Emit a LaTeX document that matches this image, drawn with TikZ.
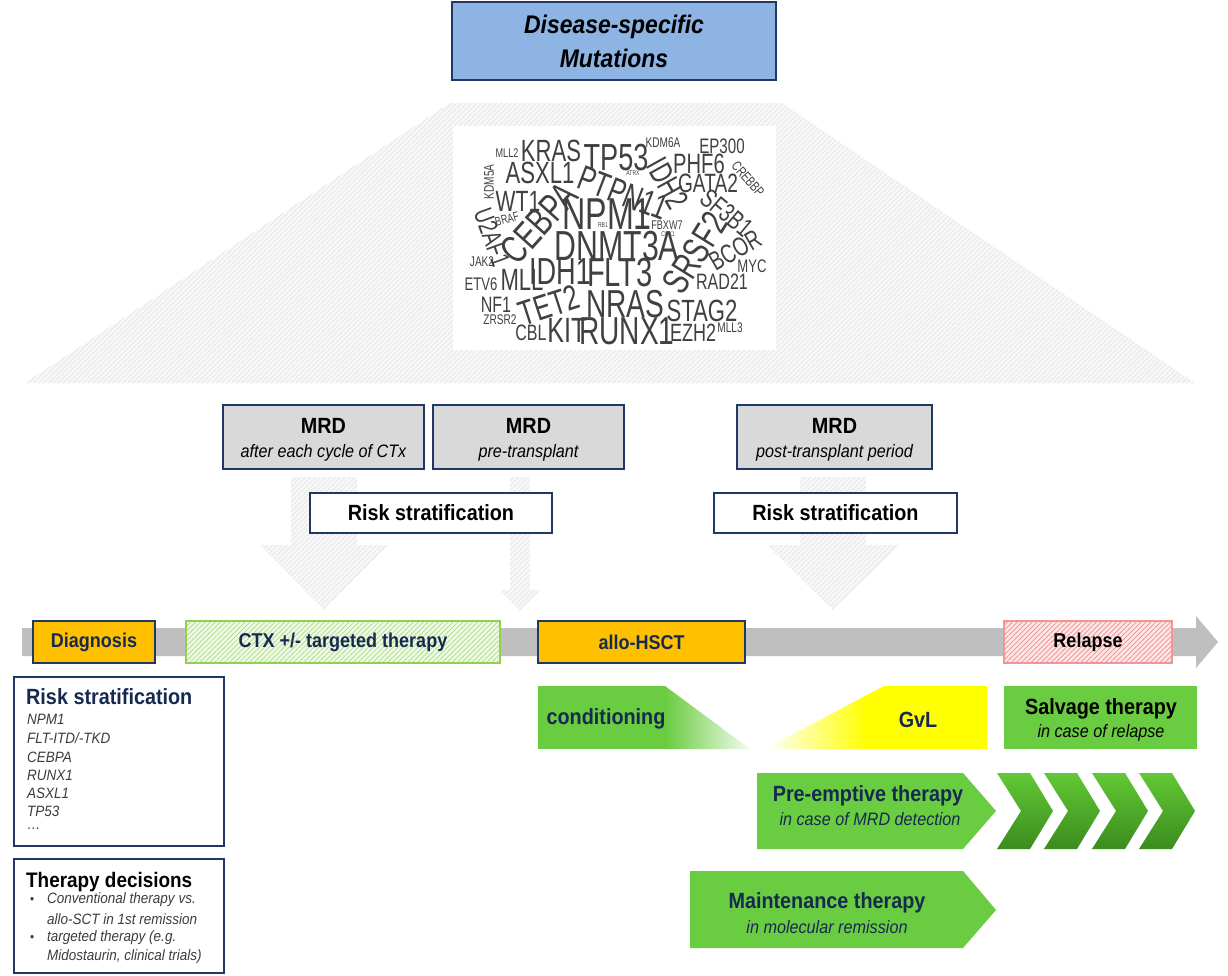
\documentclass[tikz,border=0pt]{standalone}
\usepackage{fontspec}
\setmainfont{Liberation Sans}[FakeStretch=0.9]
\usetikzlibrary{patterns.meta}
\definecolor{navy}{RGB}{31,56,100}
\definecolor{navytxt}{RGB}{22,42,80}
\definecolor{topblue}{RGB}{141,180,226}
\definecolor{mrdgray}{RGB}{217,217,217}
\definecolor{orng}{RGB}{255,192,0}
\definecolor{grn}{RGB}{106,204,64}
\definecolor{barg}{RGB}{191,191,191}
\definecolor{hatchbg}{RGB}{248,248,248}
\definecolor{hatchln}{RGB}{228,228,228}
\definecolor{wcgray}{RGB}{64,64,64}
\definecolor{ctxbg}{RGB}{238,249,230}
\definecolor{ctxln}{RGB}{170,220,130}
\definecolor{ctxbd}{RGB}{146,208,80}
\definecolor{relbg}{RGB}{253,230,230}
\definecolor{relln}{RGB}{238,140,140}
\definecolor{relbd}{RGB}{240,150,150}
\definecolor{gvly}{RGB}{255,255,0}
\definecolor{chevtop}{RGB}{98,200,52}
\definecolor{chevbot}{RGB}{58,140,30}
\definecolor{itemgray}{RGB}{60,60,60}
\tikzset{
  hatchfill/.style 2 args={preaction={fill=#1}, pattern={Lines[angle=45,distance=3.5pt,line width=0.7pt]}, pattern color=#2},
  navybox/.style={draw=navy, line width=1.6pt, inner sep=0pt},
  lbl/.style={inner sep=0pt, font=\fontsize{22}{22}\selectfont\bfseries},
  tlbl/.style={inner sep=0pt, font=\fontsize{20}{20}\selectfont\bfseries, text=navytxt},
  sub/.style={inner sep=0pt, font=\fontsize{18}{18}\selectfont\itshape},
  item/.style={inner sep=0pt, anchor=west, font=\fontsize{15}{15}\selectfont\itshape, text=itemgray},
  wc/.style={inner sep=0pt, text=wcgray}
}
\newcommand\wcw[5]{\node[wc, rotate=#3, font=\fontsize{#4}{#4}\selectfont] (w#5) at (#1,#2) {\scalebox{0.8}[1]{#5}};}
\begin{document}
\begin{tikzpicture}[x=1pt,y=-1pt]
\useasboundingbox (0,0) rectangle (1228,976);
\fill[white] (0,0) rectangle (1228,976);

% trapezoid
\path[hatchfill={hatchbg}{hatchln}] (450,103) -- (782,103) -- (1195,383) -- (25,383) -- cycle;
% title
\node[navybox, fill=topblue, minimum width=324, minimum height=78] (title) at (614,41) {};
\node[inner sep=0pt, font=\fontsize{25.5}{25.5}\selectfont\bfseries\itshape] (title1) at (614,27) {Disease-specific};
\node[inner sep=0pt, font=\fontsize{25.5}{25.5}\selectfont\bfseries\itshape] (title2) at (614,58) {Mutations};

% word cloud
\fill[white] (453,126) rectangle (776,350);
\wcw{551}{151}{0}{30.7}{KRAS}
\wcw{616}{158}{0}{37.7}{TP53}
\wcw{663}{143}{0}{14}{KDM6A}
\wcw{722}{146}{0}{21}{EP300}
\wcw{507}{153}{0}{12.6}{MLL2}
\wcw{540}{173}{0}{30.7}{ASXL1}
\wcw{668}{183}{-61}{32}{IDH2}
\wcw{748}{179}{-49}{14}{CREBBP}
\wcw{623}{193}{-21}{35}{PTPN11}
\wcw{633}{173}{0}{7}{ATRX}
\wcw{699}{164}{0}{28}{PHF6}
\wcw{708}{183}{0}{26.5}{GATA2}
\wcw{518}{201}{0}{29.3}{WT1}
\wcw{489}{182}{90}{14}{KDM5A}
\wcw{539}{223}{48}{39}{CEBPA}
\wcw{607}{214}{0}{44.7}{NPM1}
\wcw{727}{213}{-40}{26.5}{SF3B1}
\wcw{492}{237}{-70}{26.5}{U2AF1}
\wcw{507}{219}{15}{12.6}{BRAF}
\wcw{603}{225}{0}{7}{RB1}
\wcw{667}{225}{0}{12.6}{FBXW7}
\wcw{668}{234}{0}{7}{CUX1}
\wcw{617}{246}{0}{42}{DNMT3A}
\wcw{695}{253}{58}{37.7}{SRSF2}
\wcw{735}{250}{30}{26.5}{BCOR}
\wcw{752}{266}{0}{18.2}{MYC}
\wcw{482}{262}{0}{14}{JAK2}
\wcw{481}{284}{0}{18.2}{ETV6}
\wcw{522}{280}{0}{30.7}{MLL}
\wcw{560}{272}{0}{37.7}{IDH1}
\wcw{620}{273}{0}{40.5}{FLT3}
\wcw{722}{282}{0}{22.3}{RAD21}
\wcw{496}{305}{0}{22.3}{NF1}
\wcw{549}{305}{18}{35}{TET2}
\wcw{625}{304}{0}{39}{NRAS}
\wcw{702}{311}{0}{30.7}{STAG2}
\wcw{500}{320}{0}{14}{ZRSR2}
\wcw{531}{333}{0}{22.3}{CBL}
\wcw{567}{330}{0}{35}{KIT}
\wcw{627}{331}{0}{39}{RUNX1}
\wcw{693}{333}{0}{25}{EZH2}
\wcw{730}{328}{0}{14}{MLL3}

% hatched arrows
\path[hatchfill={hatchbg}{hatchln}] (291,477) -- (357,477) -- (357,545) -- (388,545) -- (324,610) -- (260,545) -- (291,545) -- cycle;
\path[hatchfill={hatchbg}{hatchln}] (510,477) -- (530,477) -- (530,590) -- (540,590) -- (520,611) -- (500,590) -- (510,590) -- cycle;
\path[hatchfill={hatchbg}{hatchln}] (800,477) -- (866,477) -- (866,545) -- (900,545) -- (833,610) -- (767,545) -- (800,545) -- cycle;

% MRD boxes
\node[navybox, fill=mrdgray, minimum width=201, minimum height=64] (mrd1) at (323.5,437) {};
\node[lbl] (mrd1a) at (323.5,426) {MRD};
\node[sub] (mrd1b) at (323.5,453) {after each cycle of CTx};
\node[navybox, fill=mrdgray, minimum width=191, minimum height=64] (mrd2) at (528.5,437) {};
\node[lbl] (mrd2a) at (528.5,426) {MRD};
\node[sub] (mrd2b) at (528.5,453) {pre-transplant};
\node[navybox, fill=mrdgray, minimum width=195, minimum height=64] (mrd3) at (834.5,437) {};
\node[lbl] (mrd3a) at (834.5,426) {MRD};
\node[sub] (mrd3b) at (834.5,453) {post-transplant period};

% risk stratification boxes
\node[navybox, fill=white, minimum width=242, minimum height=40] (rs1) at (431,513) {};
\node[lbl] (rs1t) at (431,513) {Risk stratification};
\node[navybox, fill=white, minimum width=243, minimum height=40] (rs2) at (835.5,513) {};
\node[lbl] (rs2t) at (835.5,513) {Risk stratification};

% timeline
\fill[barg] (22,628) -- (1196,628) -- (1196,616) -- (1218,642) -- (1196,668) -- (1196,656) -- (22,656) -- cycle;
\node[navybox, fill=orng, minimum width=122, minimum height=42] (diag) at (94,642) {};
\node[tlbl] (diagt) at (94,642) {Diagnosis};
\node[draw=ctxbd, line width=1.2pt, inner sep=0pt, hatchfill={ctxbg}{ctxln}, minimum width=314, minimum height=42] (ctx) at (343,642) {};
\node[tlbl] (ctxt) at (343,642) {CTX +/- targeted therapy};
\node[navybox, fill=orng, minimum width=207, minimum height=42] (allo) at (641.5,642) {};
\node[tlbl] (allot) at (641.5,642) {allo-HSCT};
\node[draw=relbd, line width=1.2pt, inner sep=0pt, hatchfill={relbg}{relln}, minimum width=168, minimum height=42] (rel) at (1088,642) {};
\node[inner sep=0pt, font=\fontsize{20}{20}\selectfont\bfseries] (relt) at (1088,642) {Relapse};

% left boxes
\node[navybox, fill=white, minimum width=210, minimum height=169] (rsl) at (119,761.5) {};
\node[inner sep=0pt, anchor=west, font=\fontsize{22}{22}\selectfont\bfseries, text=navytxt] (rslt) at (26,697) {Risk stratification};
\node[item] (i1) at (27,719) {NPM1};
\node[item] (i2) at (27,738) {FLT-ITD/-TKD};
\node[item] (i3) at (27,757) {CEBPA};
\node[item] (i4) at (27,775) {RUNX1};
\node[item] (i5) at (27,793) {ASXL1};
\node[item] (i6) at (27,811) {TP53};
\node[item] (i7) at (27,829) {\dots};
\node[navybox, fill=white, minimum width=210, minimum height=114] (td) at (119,916) {};
\node[inner sep=0pt, anchor=west, font=\fontsize{21}{21}\selectfont\bfseries] (tdt) at (26,882) {Therapy decisions};
\node[item, font=\fontsize{13}{13}\selectfont] (b1) at (30,900) {\textbullet};
\node[item] (t1) at (47,900) {Conventional therapy vs.};
\node[item] (t2) at (47,919) {allo-SCT in 1st remission};
\node[item, font=\fontsize{13}{13}\selectfont] (b2) at (30,938) {\textbullet};
\node[item] (t3) at (47,938) {targeted therapy (e.g.};
\node[item] (t4) at (47,957) {Midostaurin, clinical trials)};

% conditioning
\begin{scope}
\clip (538,686) -- (665,686) -- (750,749) -- (538,749) -- cycle;
\fill[grn] (538,686) rectangle (666,749);
\shade[left color=grn, right color=grn!8] (665,686) rectangle (750,749);
\end{scope}
\node[inner sep=0pt, font=\fontsize{22}{22}\selectfont\bfseries, text=navytxt] (cond) at (606,719) {conditioning};

% GvL
\begin{scope}
\clip (765,749) -- (884,686) -- (987,686) -- (987,749) -- cycle;
\shade[left color=white, right color=gvly] (765,686) rectangle (867,749);
\fill[gvly] (866,686) rectangle (987,749);
\end{scope}
\node[inner sep=0pt, font=\fontsize{22}{22}\selectfont\bfseries, text=navytxt] (gvl) at (918,720) {GvL};

% salvage
\node[fill=grn, inner sep=0pt, minimum width=193, minimum height=63] (salv) at (1100.5,717.5) {};
\node[lbl] (salva) at (1101,709) {Salvage therapy};
\node[sub] (salvb) at (1101,733) {in case of relapse};

% pre-emptive
\fill[grn] (757,773) -- (963,773) -- (996,811) -- (963,849) -- (757,849) -- cycle;
\node[lbl, text=navytxt] (prea) at (868,796) {Pre-emptive therapy};
\node[sub, text=navytxt] (preb) at (870,819) {in case of MRD detection};
\foreach \xo in {997,1044,1092,1139}{
  \shade[top color=chevtop, bottom color=chevbot] (\xo,773) -- (\xo+33,773) -- (\xo+56,811) -- (\xo+33,849) -- (\xo,849) -- (\xo+24,811) -- cycle;
}

% maintenance
\fill[grn] (690,871) -- (963,871) -- (996,910) -- (963,948) -- (690,948) -- cycle;
\node[lbl, text=navytxt] (maina) at (827,903) {Maintenance therapy};
\node[sub, text=navytxt] (mainb) at (827,927) {in molecular remission};
\end{tikzpicture}
\end{document}
